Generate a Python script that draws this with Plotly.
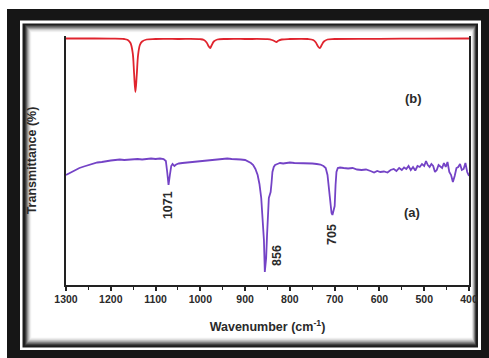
import plotly.graph_objects as go

# ---- data ----
wn_a = [1300, 1290, 1280, 1270, 1260, 1250, 1240, 1230, 1220, 1210, 1200, 1190, 1180, 1170, 1160,
        1150, 1140, 1130, 1120, 1110, 1100, 1090, 1082, 1077, 1074, 1071, 1068, 1065, 1062, 1058,
        1054, 1048, 1040, 1030, 1020, 1010, 1000, 990, 980, 970, 960, 950, 940, 930, 920, 910, 900,
        893, 887, 882, 877, 872, 868, 864, 861, 858, 856, 853, 851, 849, 847, 845, 843, 841, 839,
        836, 833, 828, 822, 815, 808, 800, 790, 780, 770, 760, 750, 740, 732, 725, 720, 716, 713,
        710, 707, 705, 702, 700, 698, 696, 693, 688, 680, 670, 660, 650, 640, 630, 620, 612, 605,
        598, 590, 582, 575, 568, 562, 556, 550, 545, 540, 535, 530, 525, 520, 515, 510, 505, 500,
        496, 492, 488, 484, 480, 476, 472, 468, 464, 460, 456, 452, 448, 444, 440, 436, 432, 428,
        424, 420, 416, 412, 408, 404, 400]
t_a = [110, 112.5, 115, 117, 118.5, 120, 121.5, 122.5, 123, 124, 124.5, 125, 125.5, 125, 125.5,
       125.5, 126, 125.5, 126, 126.5, 126, 126.5, 126, 124, 113, 100, 110, 119, 121, 119,
       120.5, 121.5, 122, 122.5, 122.5, 123, 123.5, 124, 125, 125.5, 126, 126, 126.5, 126, 126, 125.5, 125,
       123.5, 122, 120, 116, 110, 101, 87, 70, 45, 13, 27, 50, 80, 87, 90, 93, 102, 113,
       118, 120, 121, 122, 121.5, 122, 122.5, 122, 122, 121.5, 122, 121.5, 121, 120.5, 119, 117, 110, 95,
       80, 72, 70, 75, 79, 100, 113, 117, 117.5, 117, 116.5, 117, 115.5, 115, 115.5, 114, 112.5, 114,
       113, 113.5, 112.5, 115, 116, 114, 117, 115, 117.5, 116, 119, 115, 118, 114.5, 119, 118, 121, 119,
       124, 120, 118, 121, 119, 113, 115, 120, 118, 117, 122, 118, 123, 113, 110, 103, 109, 117,
       118, 121, 115, 116, 122, 113, 109]

wn_b = [1300, 1250, 1200, 1170, 1162, 1156, 1151, 1148, 1145, 1142, 1139, 1135, 1130, 1120, 1100,
        1050, 1000, 992, 986, 981, 978, 975, 970, 962, 940, 900, 850, 840, 834, 830, 826, 818, 800,
        760, 748, 742, 737, 733, 729, 724, 716, 700, 600, 500, 400]
t_b = [246.5, 246.5, 246.4, 246, 245, 242, 232, 212, 193, 210, 230, 240, 243.5, 245.5, 246,
       246, 245.8, 245, 242.5, 238.5, 237, 239.5, 243.5, 245.5, 246, 246, 245.8, 245, 243.8, 243, 244.3, 245.5, 246,
       246, 245, 242.5, 238.5, 237, 240, 243.5, 245.5, 246, 246.2, 246.4, 246.5]

x_ticks = [1300, 1200, 1100, 1000, 900, 800, 700, 600, 500, 400]
peak_labels = ["1071", "856", "705"]
peak_label_x = [1072, 829, 706]
peak_label_y = [80, 30, 51]
series_labels = ["(a)", "(b)"]
series_label_x = [527, 525]
series_label_y = [73, 187]

W, H = 489, 358
L, R, T, B = 66, 20, 36, 73
PW, PH = W - L - R, H - T - B


def px(x):
    return (x - L) / PW


def py(y):
    return (H - B - y) / PH


fig = go.Figure()
fig.add_trace(go.Scatter(x=wn_b, y=t_b, mode="lines", line=dict(color="#e0242e", width=1.8),
                         line_shape="spline", showlegend=False))
fig.add_trace(go.Scatter(x=wn_a, y=t_a, mode="lines", line=dict(color="#7443c6", width=1.8),
                         showlegend=False))

bold = dict(family="Liberation Sans, Arial", weight="bold", color="#2a2a2a")

for txt, x, y in zip(peak_labels, peak_label_x, peak_label_y):
    fig.add_annotation(x=x, y=y, text=txt, showarrow=False, textangle=-90,
                       font=dict(size=12.5, **bold))
for txt, x, y in zip(series_labels, series_label_x, series_label_y):
    fig.add_annotation(x=x, y=y, text=txt, showarrow=False, font=dict(size=13, **bold))

# frame shapes (pixel rectangles -> paper coords)
shapes = []


def rect(x0, y0, x1, y1, color):
    shapes.append(dict(type="rect", xref="paper", yref="paper", x0=px(x0), x1=px(x1),
                       y0=py(y1), y1=py(y0), fillcolor=color, line=dict(width=0), layer="below"))


rect(7, 9, 495, 365, "#161616")
rect(20, 20.5, 481, 350, "#ffffff")
rect(22.5, 23.5, 478, 347.5, "#1e1e1e")
grad = ["#333333", "#505050", "#6e6e6e", "#8c8c8c", "#a8a8a8", "#c2c2c2", "#d8d8d8", "#eaeaea", "#f6f6f6", "#ffffff"]
for i, c in enumerate(grad):
    rect(25 + 0.7 * i, 25 + 0.8 * i, 476 - 0.5 * i, 345.5 - 0.9 * i, c)

fig.update_layout(
    width=W, height=H, margin=dict(l=L, r=R, t=T, b=B, autoexpand=False),
    paper_bgcolor="white", plot_bgcolor="rgba(0,0,0,0)",
    shapes=shapes,
    xaxis=dict(range=[1300, 400], tickvals=x_ticks, ticktext=[str(v) for v in x_ticks],
               automargin=False,
               showgrid=False, zeroline=False, showline=True, linecolor="#222", linewidth=1.5,
               ticks="outside", ticklen=4, tickwidth=1.5, tickcolor="#222",
               minor=dict(dtick=50, ticks="outside", ticklen=3, tickwidth=1.2, tickcolor="#222"),
               tickfont=dict(size=10.5, **bold),
               title=dict(text="Wavenumber (cm<sup>-1</sup>)", font=dict(size=12.5, **bold), standoff=18)),
    yaxis=dict(range=[0, 249], showticklabels=False, ticks="", showgrid=False, zeroline=False,
               automargin=False,
               showline=True, mirror=True, linecolor="#222", linewidth=1.5,
               title=dict(text="Transmittance (%)", font=dict(size=12.5, **bold), standoff=25)),
)

fig.write_html("out.html", config={"displayModeBar": False},
               post_script="document.body.style.margin='0';document.body.style.overflow='hidden';")
